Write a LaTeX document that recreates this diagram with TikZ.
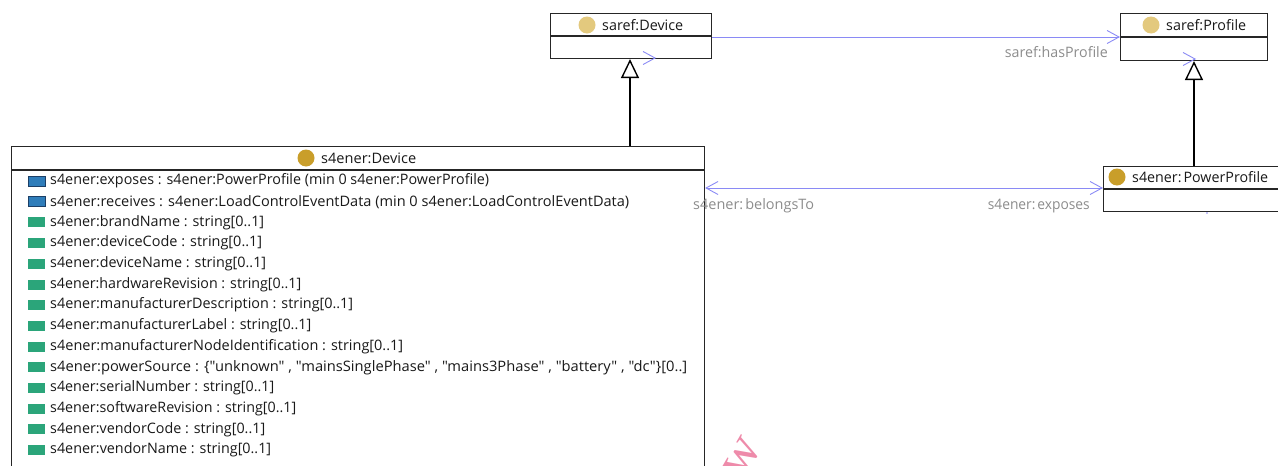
\documentclass[tikz,border=0pt]{standalone}
\usepackage{fontspec}
\usepackage{graphicx}
\setmainfont{Open Sans}[Ligatures=TeXOff]
\newfontfamily\wmfont{Liberation Serif}
\usetikzlibrary{arrows.meta,calc}

\definecolor{framecol}{HTML}{262626}
\definecolor{linkcol}{HTML}{8A8AF5}
\definecolor{labelcol}{HTML}{8C8C8C}
\definecolor{refdot}{HTML}{E3C97E}
\definecolor{extdot}{HTML}{C99E2A}
\definecolor{objfill}{HTML}{2F7DBA}
\definecolor{objedge}{HTML}{1C3F66}
\definecolor{datafill}{HTML}{2BA57A}
\definecolor{wmcol}{HTML}{EE8BAA}

% set a text to a given width, keeping its height
\newcommand{\fitw}[2]{\resizebox{#1pt}{\height}{#2}}

\begin{document}
\begin{tikzpicture}[x=1pt,y=-1pt,
  classbox/.style={draw=framecol, line width=1.1pt, fill=white, inner sep=0pt},
  titletext/.style={anchor=west, inner sep=0pt, font=\fontsize{14.4}{16}\selectfont, text=black!90},
  rowtext/.style={anchor=west, inner sep=0pt, font=\fontsize{14.4}{16}\selectfont, text=black!90},
  linklabel/.style={inner sep=0pt, font=\fontsize{14.4}{16}\selectfont, text=labelcol},
  objicon/.style={rectangle, minimum width=17pt, minimum height=10pt, inner sep=0pt,
    fill=objfill, draw=objedge, line width=0.5pt},
  dataicon/.style={rectangle, minimum width=17pt, minimum height=10pt, inner sep=0pt,
    fill=datafill},
  generalize/.style={draw=black, line width=2.4pt,
    -{Triangle[open, length=19pt, width=18pt, line width=1.4pt]}},
  assoc/.style={draw=linkcol, line width=0.9pt},
  chev/.tip={Straight Barb[length=12pt, width=13pt, line width=0.9pt]},
]
\useasboundingbox (0,0) rectangle (1278,466);
\clip (0,0) rectangle (1278,466);

% ---------- class boxes ----------
\node[classbox, anchor=north west, minimum width=161pt, minimum height=45pt] (sdev) at (550,13) {};
\node[classbox, anchor=north west, minimum width=147pt, minimum height=47pt] (sprof) at (1120,13) {};
\node[classbox, anchor=north west, minimum width=693pt, minimum height=340pt] (edev) at (11,146) {};
\node[classbox, anchor=north west, minimum width=190pt, minimum height=45pt] (eprof) at (1103,166) {};

% header separators
\draw[framecol, line width=1.1pt] ([yshift=-23pt]sdev.north west) -- ([yshift=-23pt]sdev.north east);
\draw[framecol, line width=1.1pt] ([yshift=-24pt]sprof.north west) -- ([yshift=-24pt]sprof.north east);
\draw[framecol, line width=1.1pt] ([yshift=-24pt]edev.north west) -- ([yshift=-24pt]edev.north east);
\draw[framecol, line width=1.1pt] ([yshift=-23pt]eprof.north west) -- ([yshift=-23pt]eprof.north east);

% headers
\fill[refdot] (587,25) circle[radius=8.5pt];
\node[titletext] (tsdev) at (602,25) {\fitw{81}{saref:Device}};
\fill[refdot] (1151,25) circle[radius=8.5pt];
\node[titletext] (tsprof) at (1166,25) {\fitw{80}{saref:Profile}};
\fill[extdot] (306,158) circle[radius=8.5pt];
\node[titletext] (tedev) at (321,158) {\fitw{95}{s4ener:Device}};
\fill[extdot] (1117,177) circle[radius=8.5pt];
\node[titletext] (teprof) at (1132,177) {\fitw{136}{s4ener:\kern2pt PowerProfile}};

% ---------- attribute rows ----------
\node[objicon] (i1) at (36.5,181) {};
\node[rowtext] (r1) at (50,181) {\fitw{439}{s4ener:exposes : s4ener:PowerProfile (min 0 s4ener:PowerProfile)}};
\node[objicon] (i2) at (36.5,201.7) {};
\node[rowtext] (r2) at (50,201.7) {\fitw{579}{s4ener:receives : s4ener:LoadControlEventData (min 0 s4ener:LoadControlEventData)}};
\node[dataicon] (i3) at (36.5,222.4) {};
\node[rowtext] (r3) at (50,222.4) {\fitw{214}{s4ener:brandName : string[0..1]}};
\node[dataicon] (i4) at (36.5,243.1) {};
\node[rowtext] (r4) at (50,243.1) {\fitw{212}{s4ener:deviceCode : string[0..1]}};
\node[dataicon] (i5) at (36.5,263.8) {};
\node[rowtext] (r5) at (50,263.8) {\fitw{216}{s4ener:deviceName : string[0..1]}};
\node[dataicon] (i6) at (36.5,284.5) {};
\node[rowtext] (r6) at (50,284.5) {\fitw{251}{s4ener:hardwareRevision : string[0..1]}};
\node[dataicon] (i7) at (36.5,305.2) {};
\node[rowtext] (r7) at (50,305.2) {\fitw{303}{s4ener:manufacturerDescription : string[0..1]}};
\node[dataicon] (i8) at (36.5,325.9) {};
\node[rowtext] (r8) at (50,325.9) {\fitw{261}{s4ener:manufacturerLabel : string[0..1]}};
\node[dataicon] (i9) at (36.5,346.6) {};
\node[rowtext] (r9) at (50,346.6) {\fitw{353}{s4ener:manufacturerNodeIdentification : string[0..1]}};
\node[dataicon] (i10) at (36.5,367.3) {};
\node[rowtext] (r10) at (50,367.3) {\fitw{637}{s4ener:powerSource : \{"unknown" , "mainsSinglePhase" , "mains3Phase" , "battery" , "dc"\}[0..]}};
\node[dataicon] (i11) at (36.5,388) {};
\node[rowtext] (r11) at (50,388) {\fitw{224}{s4ener:serialNumber : string[0..1]}};
\node[dataicon] (i12) at (36.5,408.7) {};
\node[rowtext] (r12) at (50,408.7) {\fitw{246}{s4ener:softwareRevision : string[0..1]}};
\node[dataicon] (i13) at (36.5,429.4) {};
\node[rowtext] (r13) at (50,429.4) {\fitw{215}{s4ener:vendorCode : string[0..1]}};
\node[dataicon] (i14) at (36.5,450.1) {};
\node[rowtext] (r14) at (50,450.1) {\fitw{221}{s4ener:vendorName : string[0..1]}};

% ---------- generalizations ----------
\coordinate (g1) at (630,0);
\coordinate (g2) at (1194,0);
\draw[generalize] (edev.north -| g1) -- (sdev.south -| g1);
\draw[generalize] (eprof.north -| g2) -- (sprof.south -| g2);

% ---------- object properties ----------
\coordinate (hp) at (0,37);
\draw[assoc, -chev] (sdev.east |- hp) -- (sprof.west |- hp);
\node[linklabel, anchor=east] (lhp) at (1108,52.5) {\fitw{103}{saref:hasProfile}};

\coordinate (bt) at (0,188);
\draw[assoc, chev-chev] (edev.east |- bt) -- (eprof.west |- bt);
\node[linklabel, anchor=west] (lbt) at (693,206) {\fitw{121}{s4ener:\kern2pt belongsTo}};
\node[linklabel, anchor=east] (lex) at (1090,206) {\fitw{102}{s4ener:\kern2pt exposes}};

% arrowheads of further links ending on the saref classes
\draw[assoc, -chev] (654,58) -- (656,58);
\draw[assoc, -chev] (1194,59) -- (1196,59);
\fill[linkcol] (1207,213) circle[radius=0.8pt];

% ---------- watermark ----------
\node[text=wmcol, rotate=60, font=\wmfont\fontsize{54}{54}\selectfont, inner sep=0pt] (wm) at (733,474) {ww};
\end{tikzpicture}
\end{document}
